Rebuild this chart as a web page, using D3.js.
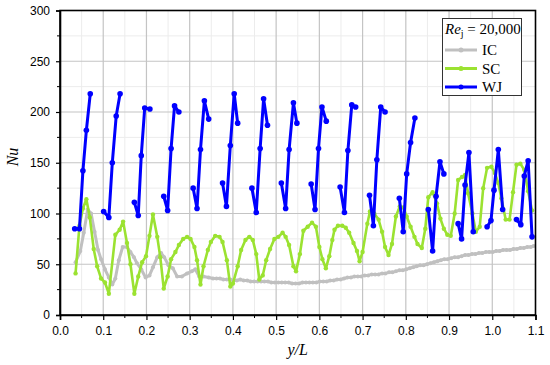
<!doctype html>
<html lang="en">
<head>
<meta charset="UTF-8">
<title>Nu vs y/L</title>
<script src="https://d3js.org/d3.v7.min.js"></script>
<style>
  body { margin: 0; background: #fff; }
  .tick text { font-family: "Liberation Sans", Arial, sans-serif; font-size: 12px; fill: #000; }
</style>
</head>
<body>
<svg width="550" height="365"></svg>
<script>

// ---- data ----
const icX = [0.036,0.047,0.055,0.064,0.072,0.080,0.088,0.095,0.104,0.113,0.121,0.128,0.136,0.145,0.155,0.163,0.171,0.178,0.188,0.198,0.207,0.215,0.225,0.234,0.241,0.251,0.261,0.271,0.282,0.294,0.305,0.313,0.322,0.332,0.344,0.354,0.362,0.370,0.378,0.386,0.394,0.401,0.409,0.417,0.425,0.433,0.441,0.449,0.457,0.465,0.473,0.481,0.489,0.497,0.505,0.513,0.521,0.529,0.537,0.545,0.553,0.561,0.569,0.577,0.585,0.593,0.601,0.609,0.617,0.625,0.633,0.641,0.649,0.657,0.665,0.673,0.681,0.689,0.697,0.705,0.713,0.721,0.729,0.737,0.745,0.753,0.761,0.769,0.777,0.785,0.793,0.801,0.809,0.817,0.825,0.833,0.841,0.849,0.857,0.865,0.873,0.881,0.889,0.897,0.905,0.913,0.921,0.929,0.937,0.945,0.953,0.961,0.969,0.977,0.985,0.993,1.001,1.009,1.017,1.025,1.033,1.041,1.049,1.057,1.065,1.073,1.081,1.089,1.096];
const icNu = [52,63,81,104,100,82,64,55,45,37,30,36,54,67,67,62,57,51,45,37,39,47,57,61,57,49,46,38,38,41,43,45,38,38,37,36,36,36,35,35,35,34,34,35,34,34,33,33,33,33,33,33,32,32,32,32,32,32,31,31,31,32,32,32,32,32,33,33,33,34,34,35,35,36,37,37,38,38,38,39,39,40,40,40,41,41,42,42,43,44,44,45,46,47,48,49,49,50,51,52,53,54,55,55,56,57,57,58,59,59,60,60,61,61,62,62,62,63,63,64,64,64,65,65,66,66,67,67,68];

const scX = [0.036,0.045,0.053,0.061,0.069,0.078,0.086,0.095,0.104,0.113,0.128,0.138,0.146,0.155,0.163,0.172,0.181,0.190,0.199,0.207,0.215,0.225,0.232,0.240,0.249,0.257,0.267,0.275,0.285,0.294,0.302,0.311,0.317,0.325,0.332,0.342,0.349,0.359,0.369,0.376,0.386,0.394,0.400,0.411,0.419,0.429,0.438,0.446,0.454,0.461,0.469,0.477,0.486,0.496,0.505,0.515,0.522,0.530,0.540,0.546,0.555,0.563,0.573,0.583,0.592,0.600,0.607,0.615,0.623,0.630,0.635,0.643,0.653,0.661,0.669,0.679,0.687,0.693,0.700,0.711,0.717,0.727,0.737,0.745,0.752,0.760,0.768,0.777,0.786,0.794,0.802,0.811,0.820,0.827,0.837,0.845,0.852,0.862,0.872,0.880,0.888,0.896,0.904,0.913,0.921,0.930,0.937,0.944,0.954,0.962,0.971,0.979,0.988,0.998,1.006,1.014,1.021,1.031,1.040,1.048,1.056,1.065,1.074,1.083,1.092];
const scNu = [41,88,105,114,96,65,48,36,32,21,79,84,92,71,50,21,38,52,58,78,99,77,57,26,38,55,62,69,75,77,75,67,54,30,48,64,72,78,77,72,54,28,31,48,64,74,77,74,60,35,39,54,65,75,77,81,77,69,48,43,60,83,87,91,87,67,55,46,58,74,84,88,88,86,81,71,63,53,62,90,102,100,94,82,67,59,70,97,107,106,97,87,77,70,66,85,116,121,110,95,85,79,78,100,133,136,138,120,100,82,87,125,145,146,140,130,115,94,94,121,148,149,143,122,103];

// WJ is drawn as separate sweeps; null marks a break
const wjX = [0.034,0.045,0.053,0.061,0.070,null,
  0.101,0.113,0.121,0.130,0.139,null,
  0.172,0.181,0.188,0.196,0.208,null,
  0.240,0.249,0.257,0.265,0.275,null,
  0.308,0.317,0.325,0.334,0.344,null,
  0.376,0.385,0.394,0.403,0.411,null,
  0.444,0.454,0.463,0.471,0.480,null,
  0.512,0.522,0.530,0.540,0.548,null,
  0.581,0.590,0.598,0.606,0.616,null,
  0.648,0.658,0.666,0.675,0.684,null,
  0.716,0.725,0.733,0.742,0.752,null,
  0.785,0.794,0.802,0.811,0.821,null,
  0.852,0.862,0.870,0.879,0.888,null,
  0.921,0.929,0.937,0.946,0.956,null,
  0.988,0.997,1.004,1.014,1.024,null,
  1.056,1.066,1.074,1.083,1.092];
const wjNu = [85,85,142,182,218,null,
  102,96,150,196,218,null,
  111,98,157,204,203,null,
  117,103,164,206,200,null,
  125,105,163,211,193,null,
  130,107,167,218,189,null,
  125,101,164,213,187,null,
  130,105,163,209,189,null,
  129,104,164,205,191,null,
  126,101,162,207,205,null,
  118,88,153,205,200,null,
  115,82,139,170,194,null,
  104,63,117,151,139,null,
  90,75,128,160,82,null,
  87,93,123,163,104,null,
  94,89,137,152,77];

const xTicks = [0.0,0.1,0.2,0.3,0.4,0.5,0.6,0.7,0.8,0.9,1.0,1.1];
const yTicks = [0,50,100,150,200,250,300];
const seriesNames = ["IC","SC","WJ"];
const seriesColors = ["#c0c0c0","#9be231","#0000ff"];

// ---- layout ----
const svg = d3.select("svg");
const pLeft = 60, pRight = 535.5, pTop = 10.5, pBottom = 315;

const x = d3.scaleLinear().domain([0, 1.1]).range([pLeft, pRight]);
const y = d3.scaleLinear().domain([0, 300]).range([pBottom, pTop]);

// minor grid
const grid = svg.append("g");
grid.selectAll(".mx").data(d3.range(0.05, 1.1, 0.1)).join("line")
    .attr("x1", d => x(d)).attr("x2", d => x(d)).attr("y1", pTop).attr("y2", pBottom)
    .attr("stroke", "#ececec").attr("stroke-width", 1);
grid.selectAll(".my").data(d3.range(25, 300, 50)).join("line")
    .attr("y1", d => y(d)).attr("y2", d => y(d)).attr("x1", pLeft).attr("x2", pRight)
    .attr("stroke", "#ececec").attr("stroke-width", 1);
// major grid
grid.selectAll(".gx").data(xTicks.slice(1, -1)).join("line")
    .attr("x1", d => x(d)).attr("x2", d => x(d)).attr("y1", pTop).attr("y2", pBottom)
    .attr("stroke", "#c4c4c4").attr("stroke-width", 1.2);
grid.selectAll(".gy").data(yTicks.slice(1, -1)).join("line")
    .attr("y1", d => y(d)).attr("y2", d => y(d)).attr("x1", pLeft).attr("x2", pRight)
    .attr("stroke", "#c4c4c4").attr("stroke-width", 1.2);

// series
function drawSeries(xs, ys, color, lw, r) {
  const pts = xs.map((d, i) => [d, ys[i]]);
  const line = d3.line()
      .defined(d => d[0] != null && d[1] != null)
      .x(d => x(d[0])).y(d => y(d[1]));
  svg.append("path").datum(pts)
      .attr("fill", "none").attr("stroke", color)
      .attr("stroke-width", lw).attr("stroke-linejoin", "round")
      .attr("d", line);
  svg.append("g").selectAll("circle").data(pts.filter(d => d[0] != null))
    .join("circle")
      .attr("cx", d => x(d[0])).attr("cy", d => y(d[1]))
      .attr("r", r).attr("fill", color);
}
drawSeries(icX, icNu, seriesColors[0], 3, 2);
drawSeries(scX, scNu, seriesColors[1], 2.6, 2.2);
drawSeries(wjX, wjNu, seriesColors[2], 3, 2.8);

// frame
svg.append("rect").attr("x", pLeft).attr("y", pTop)
    .attr("width", pRight - pLeft).attr("height", pBottom - pTop)
    .attr("fill", "none").attr("stroke", "#000").attr("stroke-width", 1.6);

// axes
const xAxis = svg.append("g").attr("transform", `translate(0,${pBottom})`)
    .call(d3.axisBottom(x).tickValues(xTicks).tickFormat(d3.format(".1f")).tickSize(5).tickPadding(6));
const yAxis = svg.append("g").attr("transform", `translate(${pLeft},0)`)
    .call(d3.axisLeft(y).tickValues(yTicks).tickSize(4).tickPadding(6));
[xAxis, yAxis].forEach(a => {
  a.select(".domain").attr("stroke-width", 1.6);
  a.selectAll(".tick line").attr("stroke-width", 1.2);
});
// minor ticks
svg.append("g").selectAll("line").data(d3.range(0.05, 1.1, 0.1)).join("line")
    .attr("x1", d => x(d)).attr("x2", d => x(d)).attr("y1", pBottom).attr("y2", pBottom + 3)
    .attr("stroke", "#000");
svg.append("g").selectAll("line").data(d3.range(25, 300, 50)).join("line")
    .attr("y1", d => y(d)).attr("y2", d => y(d)).attr("x1", pLeft).attr("x2", pLeft - 3)
    .attr("stroke", "#000");

// axis titles
svg.append("text").attr("x", x(0.55)).attr("y", 355).attr("text-anchor", "middle")
    .attr("font-family", "Liberation Serif, Times New Roman, serif").attr("font-size", 16)
    .attr("font-style", "italic").text("y/L");
svg.append("text").attr("transform", "translate(18,157) rotate(-90)").attr("text-anchor", "middle")
    .attr("font-family", "Liberation Serif, Times New Roman, serif").attr("font-size", 16)
    .attr("font-style", "italic").text("Nu");

// legend
const lg = svg.append("g").attr("font-family", "Liberation Serif, Times New Roman, serif").attr("font-size", 15);
lg.append("rect").attr("x", 442.5).attr("y", 18.5).attr("width", 79).attr("height", 77)
    .attr("fill", "#fff").attr("stroke", "#333").attr("stroke-width", 1);
const title = lg.append("text").attr("x", 445).attr("y", 34);
title.append("tspan").attr("font-style", "italic").text("Re");
title.append("tspan").attr("font-size", 10).attr("dy", 3).text("j");
title.append("tspan").attr("dy", -3).text(" = 20,000");
seriesNames.forEach((name, i) => {
  const yy = 50 + i * 18.5;
  lg.append("line").attr("x1", 445).attr("x2", 477).attr("y1", yy).attr("y2", yy)
      .attr("stroke", seriesColors[i]).attr("stroke-width", 3);
  lg.append("circle").attr("cx", 461).attr("cy", yy).attr("r", 2.5).attr("fill", seriesColors[i]);
  lg.append("text").attr("x", 482).attr("y", yy + 5).text(name);
});

</script>
</body>
</html>
